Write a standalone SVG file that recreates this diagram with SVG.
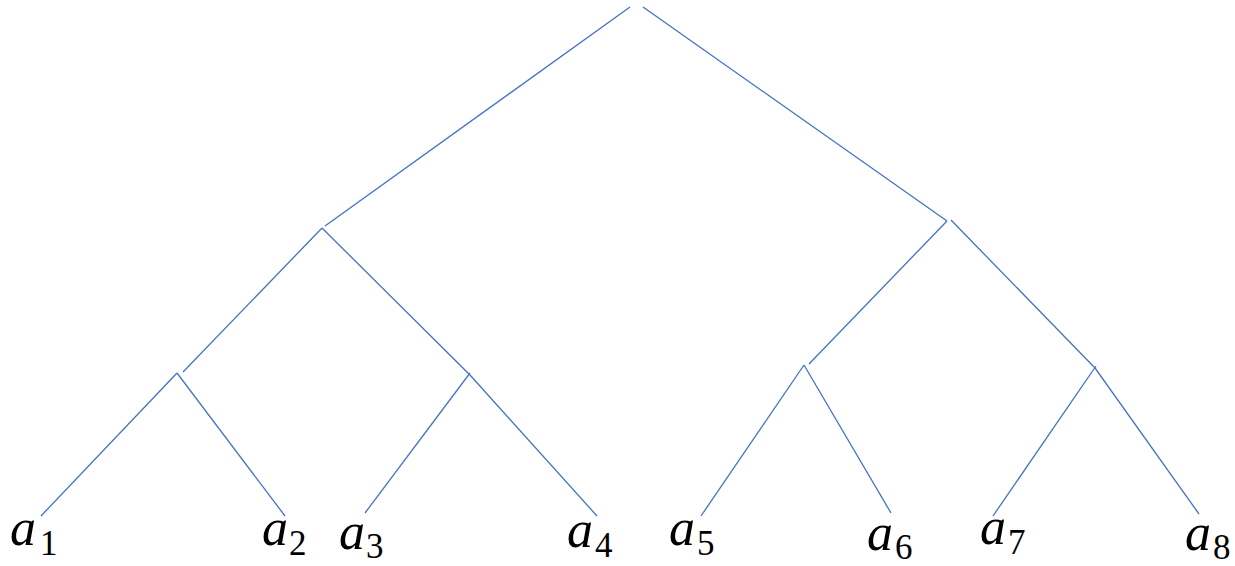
<svg xmlns="http://www.w3.org/2000/svg" width="1235" height="566" viewBox="0 0 1235 566">
<style>
.c line{stroke:#4472C4;stroke-width:1.3;fill:none}
.lbl{font-family:"Liberation Serif","Times New Roman",serif;font-style:italic;font-size:52px;fill:#000}
.sub{font-style:normal;font-size:35px}
</style>
<rect width="1235" height="566" fill="#fff"/>
<g id="connectors" class="c">
<line x1="630" y1="7" x2="325" y2="226"/>
<line x1="643" y1="7" x2="947" y2="221"/>
<line x1="322" y1="228" x2="183" y2="372"/>
<line x1="322" y1="228" x2="470" y2="375"/>
<line x1="470" y1="375" x2="597" y2="516"/>
<line x1="177" y1="373" x2="41" y2="516"/>
<line x1="177" y1="373" x2="285" y2="516"/>
<line x1="470" y1="373" x2="365" y2="513"/>
<line x1="947" y1="221" x2="809" y2="364"/>
<line x1="951" y1="220" x2="1095" y2="368"/>
<line x1="1095" y1="368" x2="1199" y2="514"/>
<line x1="804" y1="365" x2="701" y2="516"/>
<line x1="804" y1="365" x2="891" y2="513"/>
<line x1="1096" y1="366" x2="993" y2="516"/>
</g>
<g id="a1"><text class="lbl" x="10" y="545">a<tspan class="sub" x="40" y="555">1</tspan></text></g>
<g id="a2"><text class="lbl" x="262" y="545">a<tspan class="sub" x="289" y="555">2</tspan></text></g>
<g id="a3"><text class="lbl" x="339" y="549">a<tspan class="sub" x="366" y="558">3</tspan></text></g>
<g id="a4"><text class="lbl" x="567" y="547">a<tspan class="sub" x="595" y="557">4</tspan></text></g>
<g id="a5"><text class="lbl" x="669" y="545">a<tspan class="sub" x="697" y="555">5</tspan></text></g>
<g id="a6"><text class="lbl" x="867" y="550">a<tspan class="sub" x="895" y="559">6</tspan></text></g>
<g id="a7"><text class="lbl" x="980" y="544">a<tspan class="sub" x="1008" y="554">7</tspan></text></g>
<g id="a8"><text class="lbl" x="1185" y="550">a<tspan class="sub" x="1213" y="559">8</tspan></text></g>
</svg>
